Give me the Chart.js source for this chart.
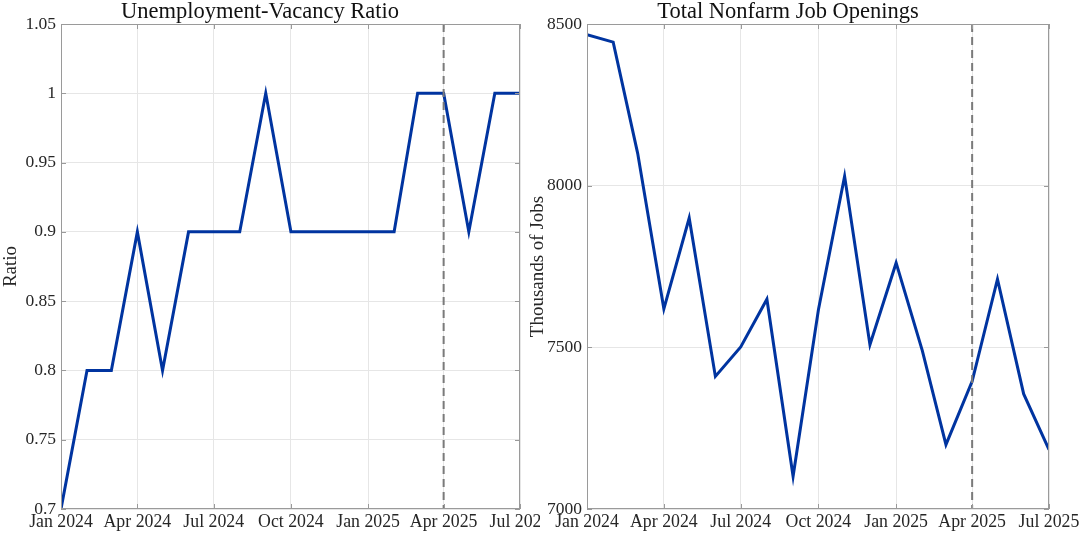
<!DOCTYPE html>
<html lang="en">
<head>
  <meta charset="UTF-8">
  <title>Unemployment-Vacancy Ratio and Job Openings</title>
  <script src="https://cdn.jsdelivr.net/npm/chart.js"></script>
  <style>
    body, html {
      margin: 0;
      background: #fff;
      width: 1080px;
      height: 533px;
      overflow: hidden;
    }
    .panel {
      position: absolute;
      top: 0;
    }
  </style>
</head>
<body>
  <div class="panel" style="left:0px"><canvas id="ratioChart" width="540" height="533"></canvas></div>
  <div class="panel" style="left:527px"><canvas id="jobsChart" width="553" height="533"></canvas></div>

  <script>
    // monthly observations
    var months = ['2024-01-01', '2024-02-01', '2024-03-01', '2024-04-01', '2024-05-01', '2024-06-01',
                  '2024-07-01', '2024-08-01', '2024-09-01', '2024-10-01', '2024-11-01', '2024-12-01',
                  '2025-01-01', '2025-02-01', '2025-03-01', '2025-04-01', '2025-05-01', '2025-06-01',
                  '2025-07-01'];
    var uvRatio = [0.7, 0.8, 0.8, 0.9, 0.8, 0.9, 0.9, 0.9, 1.0, 0.9, 0.9, 0.9, 0.9, 0.9, 1.0, 1.0, 0.9, 1.0, 1.0];
    var jobOpenings = [8467, 8444, 8100, 7619, 7900, 7410, 7501, 7649, 7101, 7616, 8029, 7508,
                       7761, 7490, 7199, 7395, 7711, 7356, 7184];

    // axis ticks
    var xTickDates = ['2024-01-01', '2024-04-01', '2024-07-01', '2024-10-01', '2025-01-01', '2025-04-01', '2025-07-01'];
    var xTickLabels = ['Jan 2024', 'Apr 2024', 'Jul 2024', 'Oct 2024', 'Jan 2025', 'Apr 2025', 'Jul 2025'];
    var ratioTicks = [0.7, 0.75, 0.8, 0.85, 0.9, 0.95, 1, 1.05];
    var jobsTicks = [7000, 7500, 8000, 8500];
    var markerDate = '2025-04-01';

    var FONT = "'Liberation Serif', 'Times New Roman', serif";
    var LINE_BLUE = '#0034a0';

    // days since Jan 1 2024
    function dayOf(s) {
      var p = s.split('-');
      return (Date.UTC(+p[0], +p[1] - 1, +p[2]) - Date.UTC(2024, 0, 1)) / 864e5;
    }

    // box, inward ticks and the dashed marker line
    var framePlugin = {
      id: 'frame',
      afterDatasetsDraw: function(chart) {
        var ctx = chart.ctx, a = chart.chartArea;
        var xs = chart.scales.x, ys = chart.scales.y;
        ctx.save();

        var mx = xs.getPixelForValue(dayOf(markerDate));
        ctx.strokeStyle = '#7a7a7a';
        ctx.lineWidth = 2;
        ctx.setLineDash([8, 5]);
        ctx.beginPath();
        ctx.moveTo(mx, a.top);
        ctx.lineTo(mx, a.bottom);
        ctx.stroke();
        ctx.setLineDash([]);

        ctx.strokeStyle = '#9a9a9a';
        ctx.lineWidth = 1;
        ctx.strokeRect(Math.round(a.left) + 0.5, Math.round(a.top) + 0.5,
                       Math.round(a.right - a.left) - 1, Math.round(a.bottom - a.top) - 1);
        ctx.beginPath();
        xs.ticks.forEach(function(t) {
          var px = Math.round(xs.getPixelForValue(t.value)) + 0.5;
          ctx.moveTo(px, a.bottom); ctx.lineTo(px, a.bottom - 5);
          ctx.moveTo(px, a.top); ctx.lineTo(px, a.top + 5);
        });
        ys.ticks.forEach(function(t) {
          var py = Math.round(ys.getPixelForValue(t.value)) + 0.5;
          ctx.moveTo(a.left, py); ctx.lineTo(a.left + 5, py);
          ctx.moveTo(a.right, py); ctx.lineTo(a.right - 5, py);
        });
        ctx.stroke();
        ctx.restore();
      }
    };

    function makeChart(canvasId, title, yTitle, values, yTicks, yAxisWidth, rightPad) {
      var points = months.map(function(m, i) { return { x: dayOf(m), y: values[i] }; });
      return new Chart(document.getElementById(canvasId), {
        type: 'line',
        data: {
          datasets: [{
            data: points,
            borderColor: LINE_BLUE,
            borderWidth: 3,
            pointRadius: 0,
            tension: 0,
            fill: false
          }]
        },
        options: {
          responsive: false,
          animation: false,
          layout: { padding: { left: 0, right: rightPad, top: 0, bottom: 0 } },
          plugins: {
            legend: { display: false },
            tooltip: { enabled: false },
            title: {
              display: true,
              text: title,
              color: '#111',
              font: { family: FONT, size: 22.5, weight: 'normal', lineHeight: 1.0667 },
              padding: { top: 0, bottom: 0 }
            }
          },
          scales: {
            x: {
              type: 'linear',
              min: dayOf(xTickDates[0]),
              max: dayOf(xTickDates[xTickDates.length - 1]),
              afterBuildTicks: function(scale) {
                scale.ticks = xTickDates.map(function(d) { return { value: dayOf(d) }; });
              },
              afterFit: function(scale) {
                scale.height = 24;
                scale.paddingLeft = 0;
                scale.paddingRight = 0;
              },
              grid: { color: '#e6e6e6', drawTicks: false },
              border: { display: false },
              ticks: {
                autoSkip: false,
                maxRotation: 0,
                padding: 3,
                color: '#262626',
                font: { family: FONT, size: 17.8 },
                callback: function(v, i) { return xTickLabels[i]; }
              }
            },
            y: {
              min: yTicks[0],
              max: yTicks[yTicks.length - 1],
              afterBuildTicks: function(scale) {
                scale.ticks = yTicks.map(function(v) { return { value: v }; });
              },
              afterFit: function(scale) {
                scale.width = yAxisWidth;
              },
              grid: { color: '#e6e6e6', drawTicks: false },
              border: { display: false },
              title: {
                display: true,
                text: yTitle,
                color: '#262626',
                font: { family: FONT, size: 19 },
                padding: { top: 0, bottom: 0 }
              },
              ticks: {
                padding: 5,
                color: '#262626',
                font: { family: FONT, size: 17.5 },
                callback: function(v) { return String(+v.toFixed(2)); }
              }
            }
          }
        },
        plugins: [framePlugin]
      });
    }

    makeChart('ratioChart', 'Unemployment-Vacancy Ratio', 'Ratio', uvRatio, ratioTicks, 61, 20);
    makeChart('jobsChart', 'Total Nonfarm Job Openings', 'Thousands of Jobs', jobOpenings, jobsTicks, 60, 31);
  </script>
</body>
</html>
